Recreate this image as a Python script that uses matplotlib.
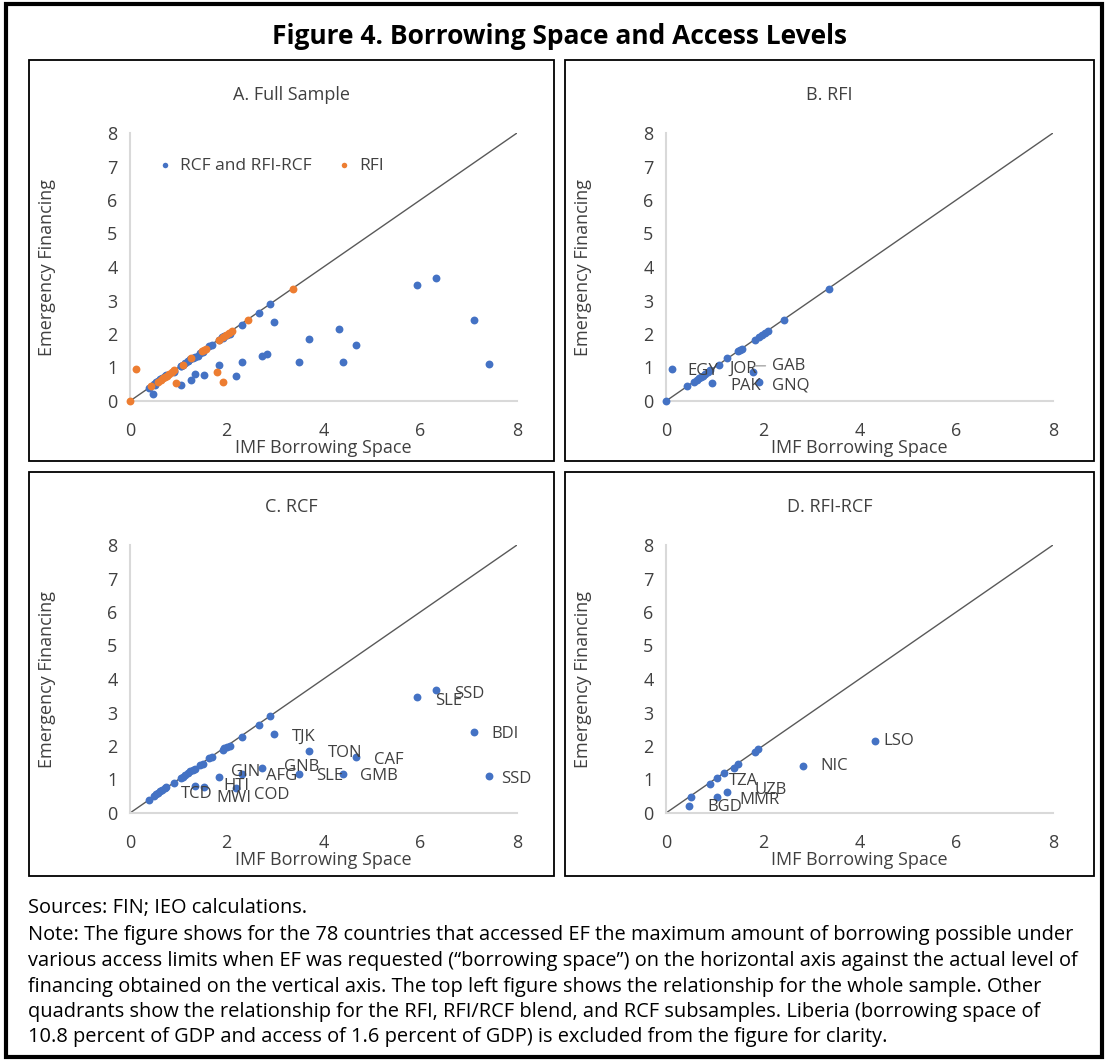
import matplotlib
matplotlib.use("Agg")
import matplotlib.pyplot as plt
from matplotlib.patches import Rectangle

plt.rcParams['font.family'] = ['Open Sans', 'DejaVu Sans']

# ---------------- data ----------------
# RFI sample (orange in A, blue in B)
rfi_x = [0, 0.13, 0.44, 0.58, 0.64, 0.68, 0.72, 0.76, 0.80, 0.86, 0.91, 0.96, 1.10, 1.27,
         1.49, 1.53, 1.57, 1.79, 1.84, 1.93, 1.93, 1.98, 2.05, 2.10, 2.44, 3.36]
rfi_y = [0, 0.95, 0.46, 0.58, 0.63, 0.68, 0.72, 0.76, 0.80, 0.86, 0.92, 0.53, 1.08, 1.27,
         1.49, 1.52, 1.55, 0.87, 1.82, 0.57, 1.91, 1.96, 2.03, 2.09, 2.41, 3.35]

# RCF sample
rcf_x = [0.39, 0.50, 0.53, 0.57, 0.62, 0.66, 0.73, 0.75, 0.90, 1.05, 1.09, 1.14, 1.19, 1.24,
         1.31, 1.34, 1.45, 1.50, 1.64, 1.69, 1.92, 1.95, 2.01, 2.06, 2.32, 2.66, 2.90,
         1.34, 1.54, 1.85, 2.19, 2.32, 2.73, 2.97, 3.49, 3.70, 4.41, 4.67, 5.94, 6.33, 7.11, 7.43]
rcf_y = [0.39, 0.52, 0.57, 0.60, 0.65, 0.69, 0.74, 0.77, 0.90, 1.04, 1.08, 1.13, 1.18, 1.24,
         1.29, 1.31, 1.44, 1.47, 1.63, 1.67, 1.88, 1.93, 1.98, 2.01, 2.28, 2.64, 2.89,
         0.82, 0.77, 1.07, 0.74, 1.17, 1.34, 2.36, 1.17, 1.84, 1.17, 1.66, 3.45, 3.68, 2.43, 1.11]

# RFI-RCF blend sample
blend_x = [0.48, 0.52, 0.90, 1.05, 1.05, 1.19, 1.27, 1.40, 1.48, 1.83, 1.91, 2.83, 4.32]
blend_y = [0.21, 0.49, 0.88, 1.03, 0.49, 1.18, 0.62, 1.33, 1.46, 1.82, 1.90, 1.41, 2.16]

# 45-degree reference line
diag_x = [0, 8]
diag_y = [0, 8]

# country labels (text, label x, label y)
rfi_labels = ["EGY", "JOR", "GAB", "PAK", "GNQ"]
rfi_lab_x = [0.45, 1.30, 2.20, 1.33, 2.20]
rfi_lab_y = [0.90, 0.95, 1.05, 0.45, 0.45]

rcf_labels = ["SSD", "SLE", "BDI", "SSD", "TJK", "TON", "CAF", "GNB", "GIN", "AFG",
              "SLE", "GMB", "HTI", "TCD", "MWI", "COD"]
rcf_lab_x = [6.70, 6.31, 7.47, 7.68, 3.35, 4.09, 5.04, 3.18, 2.09, 2.81,
             3.85, 4.76, 1.92, 1.05, 1.78, 2.57]
rcf_lab_y = [3.56, 3.33, 2.35, 1.02, 2.27, 1.78, 1.59, 1.37, 1.21, 1.11,
             1.09, 1.09, 0.82, 0.56, 0.44, 0.53]

blend_labels = ["LSO", "NIC", "TZA", "UZB", "MMR", "BGD"]
blend_lab_x = [4.50, 3.20, 1.31, 1.83, 1.52, 0.86]
blend_lab_y = [2.14, 1.40, 0.95, 0.70, 0.38, 0.17]

x_ticks = [0, 2, 4, 6, 8]
y_ticks = [0, 1, 2, 3, 4, 5, 6, 7, 8]

title = "Figure 4. Borrowing Space and Access Levels"
panel_titles = ["A. Full Sample", "B. RFI", "C. RCF", "D. RFI-RCF"]
note_lines = [
    "Sources: FIN; IEO calculations.",
    "Note: The figure shows for the 78 countries that accessed EF the maximum amount of borrowing possible under",
    "various access limits when EF was requested (\u201cborrowing space\u201d) on the horizontal axis against the actual level of",
    "financing obtained on the vertical axis. The top left figure shows the relationship for the whole sample. Other",
    "quadrants show the relationship for the RFI, RFI/RCF blend, and RCF subsamples. Liberia (borrowing space of",
    "10.8 percent of GDP and access of 1.6 percent of GDP) is excluded from the figure for clarity.",
]

BLUE = "#4472C4"
ORANGE = "#ED7D31"
TXT = "#404040"

# ---------------- layout ----------------
W, H = 1107, 1060
fig = plt.figure(figsize=(W / 100, H / 100), dpi=100)


def fx(px):
    return px / W


def fy(py):
    return 1 - py / H


# outer border
fig.patches.append(Rectangle((fx(6), fy(1057)), fx(1102) - fx(6), fy(4) - fy(1057),
                             transform=fig.transFigure, fill=False, ec="black", lw=3))

fig.text(fx(560), fy(37), title, ha="center", va="center", fontsize=19,
         fontweight="bold", color="black")

box_cols = [(29, 554), (565, 1094)]
box_rows = [(60, 461), (472, 876)]
ax_cols = [(130, 517), (666, 1053)]
ax_rows = [(133, 401), (545, 813)]

axes = []
for r in range(2):
    for c in range(2):
        bx0, bx1 = box_cols[c]
        by0, by1 = box_rows[r]
        fig.patches.append(Rectangle((fx(bx0), fy(by1)), fx(bx1) - fx(bx0), fy(by0) - fy(by1),
                                     transform=fig.transFigure, fill=False, ec="black", lw=1.3))
        ax0, ax1 = ax_cols[c]
        ay0, ay1 = ax_rows[r]
        ax = fig.add_axes([fx(ax0), fy(ay1), fx(ax1) - fx(ax0), fy(ay0) - fy(ay1)])
        ax.set_xlim(0, 8)
        ax.set_ylim(0, 8)
        ax.set_xticks(x_ticks)
        ax.set_yticks(y_ticks)
        ax.tick_params(length=0, labelsize=13, labelcolor=TXT)
        ax.tick_params(axis="y", pad=9)
        ax.tick_params(axis="x", pad=15)
        for s in ["top", "right"]:
            ax.spines[s].set_visible(False)
        for s in ["left", "bottom"]:
            ax.spines[s].set_color("#d9d9d9")
            ax.spines[s].set_linewidth(1.5)
        ax.patch.set_alpha(0)
        ax.plot(diag_x, diag_y, color="#595959", lw=1, zorder=1)
        fig.text(fx((bx0 + bx1) / 2), fy(by0 + 35), panel_titles[r * 2 + c],
                 ha="center", va="center", fontsize=13, color=TXT)
        fig.text(fx((ax0 + ax1) / 2), fy(ay1 + 47), "IMF Borrowing Space",
                 ha="center", va="center", fontsize=13, color=TXT)
        fig.text(fx(ax0 - 83), fy((ay0 + ay1) / 2), "Emergency Financing",
                 ha="center", va="center", rotation=90, fontsize=13, color=TXT)
        axes.append(ax)

axA, axB, axC, axD = axes
MS = 32

# A: full sample
axA.scatter(rcf_x + blend_x, rcf_y + blend_y, s=MS, color=BLUE, lw=0, zorder=3,
            clip_on=False, label="RCF and RFI-RCF")
axA.scatter(rfi_x, rfi_y, s=MS, color=ORANGE, lw=0, zorder=4, clip_on=False, label="RFI")
axA.legend(loc="center left", bbox_to_anchor=(0.045, 0.877), ncol=2, frameon=False,
           fontsize=12.5, handletextpad=0.25, columnspacing=1.3, markerscale=0.7,
           handlelength=1.2, labelcolor=TXT, borderaxespad=0)

# B: RFI
axB.scatter(rfi_x, rfi_y, s=MS, color=BLUE, lw=0, zorder=3, clip_on=False)
for t, lx, ly in zip(rfi_labels, rfi_lab_x, rfi_lab_y):
    if t == "GAB":
        axB.annotate(t, xy=(1.84, 1.05), xytext=(lx, ly), fontsize=12, color=TXT,
                     ha="left", va="center",
                     arrowprops=dict(arrowstyle="-", color="#a6a6a6", lw=1,
                                     shrinkA=3, shrinkB=0))
    else:
        axB.text(lx, ly, t, fontsize=12, color=TXT, ha="left", va="center")

# C: RCF
axC.scatter(rcf_x, rcf_y, s=MS, color=BLUE, lw=0, zorder=3, clip_on=False)
for t, lx, ly in zip(rcf_labels, rcf_lab_x, rcf_lab_y):
    axC.text(lx, ly, t, fontsize=12, color=TXT, ha="left", va="center")

# D: RFI-RCF
axD.scatter(blend_x, blend_y, s=MS, color=BLUE, lw=0, zorder=3, clip_on=False)
for t, lx, ly in zip(blend_labels, blend_lab_x, blend_lab_y):
    axD.text(lx, ly, t, fontsize=12, color=TXT, ha="left", va="center")

# notes
note_y = [908, 935, 961, 987, 1012, 1037]
for line, yy in zip(note_lines, note_y):
    fig.text(fx(28), fy(yy), line, ha="left", va="center", fontsize=14.4, color="black")

fig.savefig("out.png", dpi=100)
